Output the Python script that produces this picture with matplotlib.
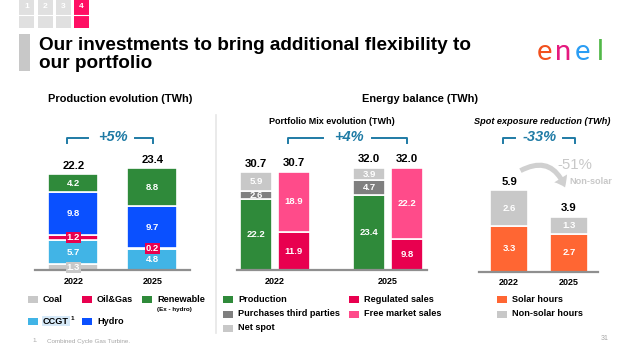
import numpy as np
import matplotlib.pyplot as plt
from matplotlib.patches import Rectangle, FancyArrowPatch

plt.rcParams['font.family'] = ['Liberation Sans', 'DejaVu Sans']

W, H = 640, 364

# --- data -------------------------------------------------------------
years = ['2022', '2025']

# Production evolution (TWh)
coal = [1.3, 0.0]
ccgt = [5.7, 4.8]
oil_gas = [1.2, 0.2]
hydro = [9.8, 9.7]
renewable = [4.2, 8.8]
prod_totals = [22.2, 23.4]

# Portfolio mix (TWh)
production = [22.2, 23.4]
purchases = [2.6, 4.7]
net_spot = [5.9, 3.9]
regulated_sales = [11.9, 9.8]
free_market_sales = [18.9, 22.2]
balance_totals = [30.7, 32.0]

# Spot exposure (TWh)
solar_hours = [3.3, 2.7]
non_solar_hours = [2.6, 1.3]
spot_totals = [5.9, 3.9]

# colours
C_GREY = '#c8c8c8'
C_DGREY = '#7f7f7f'
C_RED = '#e8004f'
C_PINK = '#ff4b8a'
C_GREEN = '#2f8a3a'
C_LBLUE = '#41b4e6'
C_BLUE = '#0a50ff'
C_ORANGE = '#ff6633'
C_TEAL = '#1f7ba5'

fig = plt.figure(figsize=(6.4, 3.64), dpi=100)

# background axes in pixel coordinates for the slide furniture
bg = fig.add_axes([0, 0, 1, 1])
bg.set_xlim(0, W)
bg.set_ylim(H, 0)
bg.axis('off')


def px_axes(x0, x1, top, base):
    return fig.add_axes([x0 / W, 1 - base / H, (x1 - x0) / W, (base - top) / H])


def style_axes(ax):
    for s in ax.spines.values():
        s.set_visible(False)
    ax.patch.set_alpha(0)
    ax.set_yticks([])
    ax.set_xticks([0, 1], years)
    ax.tick_params(axis='x', length=0, pad=5, labelsize=6.5)
    for t in ax.get_xticklabels():
        t.set_fontweight('bold')
    ax.axhline(0, color='#8f8f8f', lw=1.6, clip_on=False)


def stack(ax, x, width, series, colors, box_below=0.0):
    bottom = np.zeros(len(x))
    for vals, col in zip(series, colors):
        vals = np.asarray(vals, float)
        ax.bar(x, vals, width, bottom=bottom, color=col,
               edgecolor='white', linewidth=1.2)
        for xi, v, b in zip(x, vals, bottom):
            if v <= 0:
                continue
            box = None
            if v < box_below:
                box = dict(boxstyle='square,pad=0.12', fc=col, ec='none')
            ax.text(xi, b + v / 2, f'{v:.1f}', ha='center', va='center',
                    color='white', fontsize=6.8, fontweight='bold', bbox=box)
        bottom += vals
    return bottom


def totals(ax, x, tops, labels):
    for xi, t, lab in zip(x, tops, labels):
        ax.annotate(f'{lab:.1f}', (xi, t), xytext=(0, 2.5),
                    textcoords='offset points', ha='center', va='bottom',
                    fontsize=8.2, fontweight='bold')


# --- left: production evolution ---------------------------------------
ax1 = px_axes(35, 190, 110, 270)
ax1.set_xlim(-0.487, 1.475)
ax1.set_ylim(0, 160 / 4.32)
x1 = np.arange(len(years))
tops = stack(ax1, x1, 0.633, [coal, ccgt, oil_gas, hydro, renewable],
             [C_GREY, C_LBLUE, C_RED, C_BLUE, C_GREEN], box_below=1.5)
totals(ax1, x1, tops, prod_totals)
style_axes(ax1)

# --- middle: portfolio mix ---------------------------------------------
ax2 = px_axes(237, 427, 110, 270)
ax2.set_xlim(-0.336, 1.345)
ax2.set_ylim(0, 160 / 3.19)
x2 = np.arange(len(years))
off, bw = 0.168, 0.283
tops_p = stack(ax2, x2 - off, bw, [production, purchases, net_spot],
               [C_GREEN, C_DGREY, C_GREY])
tops_s = stack(ax2, x2 + off, bw, [regulated_sales, free_market_sales],
               [C_RED, C_PINK])
totals(ax2, x2 - off, tops_p, balance_totals)
totals(ax2, x2 + off, tops_s, balance_totals)
style_axes(ax2)

# --- right: spot exposure ----------------------------------------------
ax3 = px_axes(479, 598, 110, 271.5)
ax3.set_xlim(-0.5, 1.483)
ax3.set_ylim(0, 161.5 / 13.75)
x3 = np.arange(len(years))
tops_r = stack(ax3, x3, 0.633, [solar_hours, non_solar_hours],
               [C_ORANGE, C_GREY])
totals(ax3, x3, tops_r, spot_totals)
style_axes(ax3)

# --- slide furniture ---------------------------------------------------
for i, x in enumerate([19, 38, 56, 74]):
    col = '#ff0f64' if i == 3 else '#e0e0e0'
    bg.add_patch(Rectangle((x, 0), 15, 28, fc=col, ec='none'))
    bg.plot([x, x + 15], [15, 15], color='white', lw=0.8)
    bg.text(x + 7.5, 7, str(i + 1), color='white', fontsize=6, fontweight='bold',
            ha='center', va='center')

bg.add_patch(Rectangle((19, 34), 11, 37, fc=C_GREY, ec='none'))
bg.text(39, 45, 'Our investments to bring additional flexibility to',
        fontsize=13.7, fontweight='bold', va='center')
bg.text(39, 64, 'our portfolio', fontsize=13.7, fontweight='bold', va='center')

for ch, x, col in zip('enel', [545, 563, 582, 600],
                      ['#f2501d', '#e5197e', '#2a9df4', '#52b848']):
    bg.text(x, 60, ch, color=col, fontsize=21, family=['Lato', 'DejaVu Sans'],
            fontweight='normal', ha='center', va='baseline')

bg.text(120, 99, 'Production evolution (TWh)', fontsize=7.9, fontweight='bold',
        ha='center', va='center')
bg.text(420, 99, 'Energy balance (TWh)', fontsize=7.9, fontweight='bold',
        ha='center', va='center')
bg.text(332, 121, 'Portfolio Mix evolution (TWh)', fontsize=6.5,
        fontweight='bold', ha='center', va='center')
bg.text(542, 121, 'Spot exposure reduction (TWh)', fontsize=6.6,
        fontweight='bold', style='italic', ha='center', va='center')


def bracket(x0, x1, g0, g1, label, xt):
    bg.plot([x0, x0, g0], [143, 137.5, 137.5], color=C_TEAL, lw=1.4)
    bg.plot([g1, x1, x1], [137.5, 137.5, 143], color=C_TEAL, lw=1.4)
    bg.text(xt, 137, label, color=C_TEAL, fontsize=10.5, fontweight='bold',
            style='italic', ha='center', va='center')


bracket(67, 153, 88, 135, '+5%', 113)
bracket(288, 407, 323, 372, '+4%', 349)
bracket(503, 575, 515, 563, '-33%', 540)

bg.add_patch(FancyArrowPatch((518, 172), (566, 190),
                             connectionstyle='arc3,rad=-0.6',
                             arrowstyle='simple,head_length=0.6,head_width=0.9,tail_width=0.3',
                             mutation_scale=12, color='#d0d0d0', lw=0))
bg.text(575, 165, '-51%', color=C_GREY, fontsize=10.8, ha='center', va='center')
bg.text(591, 181, 'Non-solar', color=C_GREY, fontsize=6.6, fontweight='bold',
        ha='center', va='center')

bg.plot([216, 216], [115, 333], color='#e6e6e6', lw=1.2)


def legend_item(x, y, color, label):
    bg.add_patch(Rectangle((x, y - 3.5), 10, 7, fc=color, ec='none'))
    return bg.text(x + 15, y, label, fontsize=6.6, fontweight='bold', va='center')


legend_item(28, 299, C_GREY, 'Coal')
legend_item(82, 299, C_RED, 'Oil&Gas')
legend_item(142, 299, C_GREEN, 'Renewable')
bg.text(157, 309, '(Ex - hydro)', fontsize=4.5, fontweight='bold', va='center')
t = legend_item(28, 321, C_LBLUE, 'CCGT')
t.set_bbox(dict(boxstyle='square,pad=0.1', fc='#d6e9f8', ec='none'))
bg.text(70.5, 318, '1', fontsize=4.5, fontweight='bold', va='center')
legend_item(82, 321, C_BLUE, 'Hydro')

legend_item(223, 299, C_GREEN, 'Production')
legend_item(223, 314, C_DGREY, 'Purchases third parties')
legend_item(223, 328, C_GREY, 'Net spot')
legend_item(349, 299, C_RED, 'Regulated sales')
legend_item(349, 314, C_PINK, 'Free market sales')
legend_item(497, 299, C_ORANGE, 'Solar hours')
legend_item(497, 314, C_GREY, 'Non-solar hours')

bg.text(32, 341, '1.', fontsize=4.5, color='#a6a6a6', va='center')
bg.text(47, 341, 'Combined Cycle Gas Turbine.', fontsize=4.5, color='#a6a6a6',
        va='center')
bg.text(605, 339, '31', fontsize=5, color='#a6a6a6', ha='center', va='center')

fig.savefig('out.png', dpi=100)
